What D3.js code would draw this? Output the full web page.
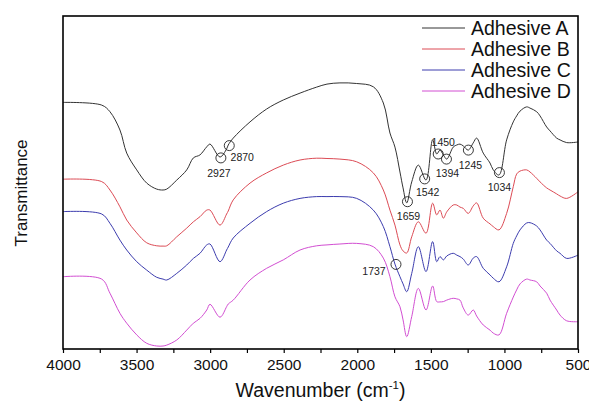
<!DOCTYPE html>
<html>
<head>
<meta charset="utf-8">
<script src="https://cdn.jsdelivr.net/npm/d3@7"></script>
<style>
  body { margin: 0; background: #fff; }
  text { font-family: Arial, "Liberation Sans", sans-serif; }
</style>
</head>
<body>
<script>
// wavenumber grid (cm-1) shared by the four spectra
var wavenumbers = [4000, 3737, 3681, 3613, 3567, 3499, 3431, 3363, 3320, 3295,
  3227, 3159, 3114, 3069, 3023, 3001, 2933, 2888, 2877, 2843,
  2729, 2616, 2503, 2389, 2276, 2206, 2118, 2004, 1891, 1823,
  1778, 1744, 1710, 1689, 1664, 1630, 1585, 1533, 1488, 1460,
  1438, 1415, 1392, 1348, 1324, 1302, 1280, 1246, 1212, 1189,
  1144, 1098, 1076, 1037, 985, 940, 917, 894, 849, 826,
  781, 758, 713, 690, 645, 622, 577, 500];

// transmittance (a.u., curves offset)
var adhesiveA = [82.2, 81.3, 79.1, 73.0, 65.3, 59.7, 55.3, 53.3, 53.0, 53.3,
  56.3, 59.7, 63.7, 64.7, 67.4, 68.3, 64.0, 66.7, 68.0, 70.3,
  75.7, 80.0, 83.0, 85.3, 87.3, 88.3, 88.7, 88.5, 87.4, 82.0,
  72.0, 67.3, 59.0, 53.7, 48.7, 55.7, 61.3, 56.3, 69.7, 65.0,
  66.3, 64.7, 63.3, 67.3, 68.0, 68.3, 67.7, 66.3, 68.7, 70.3,
  65.3, 62.0, 59.7, 58.0, 69.7, 75.7, 77.7, 79.3, 80.7, 80.3,
  79.1, 77.7, 74.0, 72.7, 70.3, 69.7, 68.8, 69.0];
var adhesiveB = [56.6, 55.8, 53.0, 47.4, 43.0, 38.7, 35.4, 34.4, 34.3, 34.4,
  37.4, 40.3, 42.4, 44.1, 46.3, 46.3, 41.3, 45.0, 46.0, 49.7,
  55.3, 58.7, 61.3, 63.0, 63.6, 63.5, 63.3, 62.4, 58.7, 53.0,
  46.3, 41.3, 34.7, 32.7, 32.0, 37.4, 42.4, 38.6, 48.6, 44.7,
  46.3, 43.6, 45.7, 48.0, 48.0, 47.3, 46.9, 45.2, 47.7, 48.7,
  43.6, 41.7, 40.8, 39.7, 45.2, 54.1, 58.3, 59.3, 59.7, 59.0,
  56.9, 55.7, 53.7, 53.0, 51.7, 51.0, 50.2, 52.4];
var adhesiveC = [45.8, 45.0, 41.9, 36.3, 33.0, 29.1, 26.3, 23.9, 23.3, 23.0,
  25.2, 28.0, 30.2, 31.9, 34.7, 35.0, 29.1, 33.0, 34.0, 37.0,
  41.9, 45.8, 48.6, 50.2, 50.8, 50.8, 50.8, 50.2, 46.3, 40.8,
  34.1, 28.3, 24.1, 21.7, 19.1, 25.2, 34.1, 25.8, 35.8, 29.1,
  30.8, 29.7, 31.0, 31.9, 31.3, 30.8, 30.0, 28.0, 30.3, 30.8,
  26.9, 24.7, 23.6, 22.4, 27.4, 35.2, 37.7, 39.7, 42.0, 42.1,
  41.0, 39.7, 36.3, 35.2, 32.7, 31.9, 30.2, 31.3];
var adhesiveD = [24.1, 23.3, 18.6, 11.9, 8.6, 4.7, 1.9, 1.0, 1.0, 1.3,
  3.0, 6.3, 8.6, 10.2, 13.0, 14.9, 10.6, 14.1, 15.0, 16.3,
  23.0, 26.9, 29.7, 33.0, 34.4, 34.7, 35.0, 35.2, 34.1, 30.3,
  24.1, 17.4, 14.1, 9.7, 4.1, 10.8, 20.2, 13.0, 21.0, 15.8,
  15.7, 15.8, 16.3, 16.9, 16.7, 16.3, 13.7, 11.3, 13.0, 11.0,
  8.0, 6.3, 5.3, 4.7, 11.9, 17.3, 19.7, 21.7, 23.3, 23.0,
  22.4, 21.0, 18.6, 16.3, 13.0, 11.3, 9.4, 9.1];

var seriesNames = ["Adhesive A", "Adhesive B", "Adhesive C", "Adhesive D"];
var seriesColors = ["#333333", "#dc4b55", "#3c3cae", "#d24ed2"];

// marked bands
var peakLabels = ["2927", "2870", "1659", "1542", "1450", "1394", "1245", "1034", "1737"];
var peakWn = [2927, 2870, 1659, 1542, 1450, 1394, 1245, 1034, 1737];
var peakT = [63.7, 67.8, 49.1, 56.7, 65.0, 63.3, 66.3, 58.8, 28.2];

var xTicks = [4000, 3500, 3000, 2500, 2000, 1500, 1000, 500];

var w = 589, h = 403;
var margin = {top: 16, right: 11, bottom: 54, left: 63};

var svg = d3.select("body")
  .append("svg")
  .attr("width", w)
  .attr("height", h);

var x = d3.scaleLinear()
  .domain([4000, 500])
  .range([margin.left, w - margin.right]);

var y = d3.scaleLinear()
  .domain([0, 111])
  .range([h - margin.bottom, margin.top]);

var allSeries = [adhesiveA, adhesiveB, adhesiveC, adhesiveD];

var line = d3.line()
  .x(function(d) { return x(d[0]); })
  .y(function(d) { return y(d[1]); })
  .curve(d3.curveCatmullRom.alpha(0.5));

svg.selectAll("path.spec")
  .data(allSeries)
  .enter()
  .append("path")
  .attr("class", "spec")
  .attr("fill", "none")
  .attr("stroke", function(d, i) { return seriesColors[i]; })
  .attr("stroke-width", 1)
  .attr("d", function(d) {
    return line(d.map(function(v, i) { return [wavenumbers[i], v]; }));
  });

// annotation circles + labels
var labelOffsets = [[-2, 15], [13, 11], [1, 14], [3, 13], [5, -12], [1, 14], [2, 15], [0, 14], [-22, 7]];

var ann = svg.selectAll("g.peak")
  .data(peakLabels)
  .enter()
  .append("g")
  .attr("class", "peak")
  .attr("transform", function(d, i) {
    return "translate(" + x(peakWn[i]) + "," + y(peakT[i]) + ")";
  });

ann.append("circle")
  .attr("r", 5)
  .attr("fill", "none")
  .attr("stroke", "#222")
  .attr("stroke-width", 0.9);

ann.append("text")
  .attr("x", function(d, i) { return labelOffsets[i][0]; })
  .attr("y", function(d, i) { return labelOffsets[i][1]; })
  .attr("text-anchor", "middle")
  .attr("dominant-baseline", "central")
  .attr("font-size", "10.5px")
  .attr("fill", "#222")
  .text(function(d) { return d; });

// x axis
var minorTicks = d3.range(3750, 500, -500);

svg.append("g")
  .attr("transform", "translate(0," + (h - margin.bottom) + ")")
  .call(d3.axisBottom(x).tickValues(minorTicks).tickSize(4).tickFormat(""))
  .call(function(g) { g.select(".domain").remove(); })
  .selectAll("line").attr("stroke", "#000").attr("stroke-width", 1.2);

var xAxis = svg.append("g")
  .attr("transform", "translate(0," + (h - margin.bottom) + ")")
  .call(d3.axisBottom(x).tickValues(xTicks).tickSize(4).tickSizeOuter(0).tickPadding(6).tickFormat(d3.format("d")));

xAxis.select(".domain").remove();
xAxis.selectAll("line").attr("stroke", "#000").attr("stroke-width", 1.2);
xAxis.selectAll("text")
  .attr("font-size", "15.5px")
  .attr("fill", "#111")
  .style("font-family", "Arial, 'Liberation Sans', sans-serif");

// frame
svg.append("rect")
  .attr("x", margin.left)
  .attr("y", margin.top)
  .attr("width", w - margin.left - margin.right)
  .attr("height", h - margin.top - margin.bottom)
  .attr("fill", "none")
  .attr("stroke", "#000")
  .attr("stroke-width", 1.6);

// axis titles
var xt = svg.append("text")
  .attr("x", (margin.left + w - margin.right) / 2)
  .attr("y", h - 6)
  .attr("text-anchor", "middle")
  .attr("font-size", "19.5px")
  .attr("fill", "#111");
xt.append("tspan").text("Wavenumber (cm");
xt.append("tspan").attr("font-size", "11.5px").attr("dy", -8).text("-1");
xt.append("tspan").attr("dy", 8).text(")");

svg.append("text")
  .attr("transform", "translate(27," + 193 + ") rotate(-90)")
  .attr("text-anchor", "middle")
  .attr("font-size", "17px")
  .attr("fill", "#111")
  .text("Transmittance");

// legend
var legend = svg.selectAll("g.legend")
  .data(seriesNames)
  .enter()
  .append("g")
  .attr("class", "legend")
  .attr("transform", function(d, i) { return "translate(422," + (28 + i * 21) + ")"; });

legend.append("line")
  .attr("x1", 0).attr("x2", 43)
  .attr("y1", 0).attr("y2", 0)
  .attr("stroke", function(d, i) { return seriesColors[i]; })
  .attr("stroke-width", 1);

legend.append("text")
  .attr("x", 49)
  .attr("y", 0)
  .attr("dominant-baseline", "central")
  .attr("font-size", "19.5px")
  .attr("fill", "#111")
  .text(function(d) { return d; });
</script>
</body>
</html>
